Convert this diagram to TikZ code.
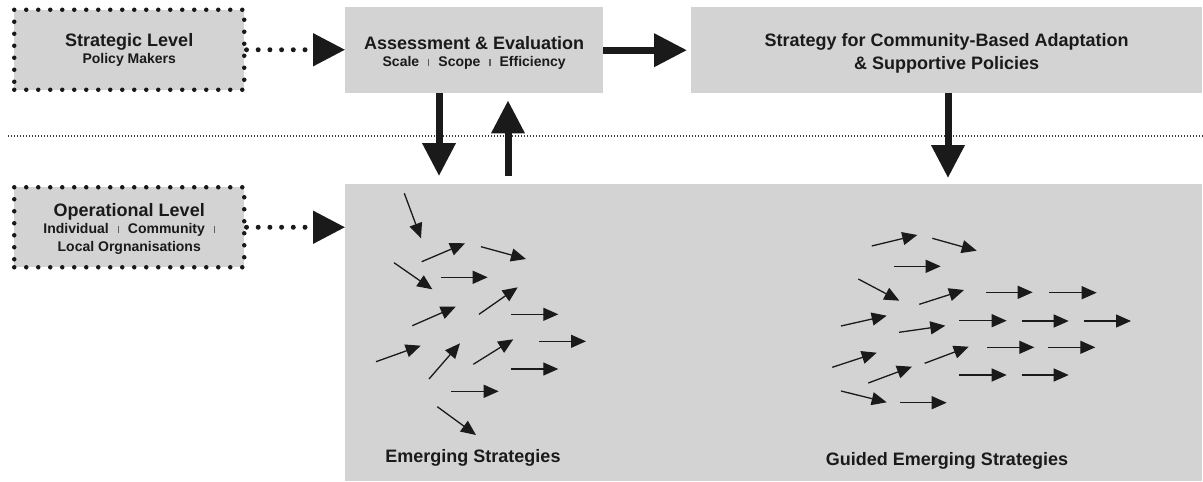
\documentclass[tikz,border=0pt]{standalone}
\usepackage{fontspec}
\setmainfont{Liberation Sans}
\usetikzlibrary{arrows.meta,calc}
\definecolor{boxgray}{HTML}{D3D3D3}
\definecolor{ink}{HTML}{1A1A1A}
\newcommand{\mysep}{\hspace{9pt}\textcolor{ink!70}{\rule[0.5pt]{1.2pt}{7pt}}\hspace{9pt}}
\newcommand{\bigtxt}{\fontsize{18}{21}\selectfont}
\newcommand{\smalltxt}{\fontsize{14}{17.5}\selectfont}
\begin{document}
\begin{tikzpicture}[x=1pt,y=-1pt,
  box/.style={fill=boxgray, draw=none, anchor=north west, inner sep=0pt, align=center, text=ink},
  dotbox/.style={box, draw=ink, line width=4.5pt, dash pattern=on 0pt off 12pt, line cap=round},
  smallfont/.style={font=\bfseries\smalltxt},
  largefont/.style={font=\bfseries\fontsize{18}{23}\selectfont},
  bigarrow/.style={draw=ink, line width=7pt, -{Triangle[length=33pt,width=32pt]}},
  dotarrow/.style={draw=ink, line width=5pt, dash pattern=on 0pt off 11.7pt, line cap=round, -{Triangle[length=32pt,width=32pt]}},
  smallarrow/.style={draw=ink, line width=1.3pt, -{Triangle[length=15pt,width=13pt]}},
  divider/.style={draw=ink!85, line width=1.2pt, dash pattern=on 1.2pt off 1.8pt},
  caption/.style={text=ink, font=\bfseries\fontsize{18}{21}\selectfont, inner sep=0pt}
]
\useasboundingbox (0,0) rectangle (1203,482);

% divider
\coordinate (divL) at (8,136);
\coordinate (divR) at (1203,136);
\draw[divider] (divL) -- (divR);

% boxes
\node[dotbox, smallfont, minimum width=230pt, minimum height=80pt] (stratlvl) at (12,7.5)
  {{\bigtxt Strategic Level}\\{\smalltxt Policy Makers}};
\node[dotbox, smallfont, minimum width=230pt, minimum height=80pt] (oplvl) at (12,185)
  {{\bigtxt\rule{0pt}{16pt}Operational Level}\\{\smalltxt Individual\mysep Community\mysep}\\{\smalltxt Local Orgnanisations}};
\node[box, smallfont, minimum width=258pt, minimum height=86pt] (assess) at (345,7)
  {{\bigtxt\rule{0pt}{19pt}Assessment \& Evaluation}\\{\smalltxt Scale\mysep Scope\mysep Efficiency}};
\node[box, largefont, minimum width=511pt, minimum height=86pt] (strat) at (691,7)
  {\rule{0pt}{19pt}Strategy for Community-Based Adaptation\\\& Supportive Policies};
\node[box, minimum width=857pt, minimum height=297pt] (field) at (345,184) {};

\node[caption] (emerg) at (473,458) {Emerging Strategies};
\node[caption] (guided) at (947,461) {Guided Emerging Strategies};

% connectors
\draw[dotarrow] (stratlvl.east) -- (stratlvl.east -| assess.west);
\draw[dotarrow] (oplvl.east) -- (oplvl.east -| field.west);
\draw[bigarrow, shorten >=4pt] (assess.east) -- (assess.east -| strat.west);

\coordinate (xA) at (439,0);
\coordinate (xB) at (508,0);
\coordinate (xC) at (948,0);
\draw[bigarrow] (xA |- assess.south) -- ($(xA |- field.north)+(0,-8)$);
\draw[bigarrow] ($(xB |- field.north)+(0,-8)$) -- ($(xB |- assess.south)+(0,7)$);
\draw[bigarrow] (xC |- strat.south) -- ($(xC |- field.north)+(0,-6)$);

% emerging strategies (left group)
\foreach \ax/\ay/\bx/\by in {
404.3/193.3/421/238.3,
421.7/261.7/465/243.3,
481/246.7/526/259,
394/262.7/432.3/289.3,
441/277.3/487.7/277.3,
479/314.3/517.7/287.3,
412.3/325.7/455.7/306.7,
511/314.3/558.3/314.3,
376/361.7/420.7/345.7,
429/379/460/343.3,
473.3/364.3/513.3/339.3,
539/341.3/586/341.3,
511/369/558.3/369,
451/391.3/498.7/391.3,
437.3/406.7/476/435}
  \draw[smallarrow] (\ax,\ay) -- (\bx,\by);

% guided emerging strategies (right group)
\foreach \ax/\ay/\bx/\by in {
871.7/246/917.3/235,
932.3/238.3/976.7/250.7,
894/266.3/940.7/266.3,
858.3/279/899.3/300.7,
919.3/304.3/964/290,
986/292.3/1032.7/292.3,
1049.3/292.7/1096.7/292.7,
841/326/886.7/315.7,
899/332.3/945.3/325.7,
959.3/320.7/1006.7/320.7,
1021.7/321/1068.7/321,
1084/321/1131/321,
832.3/367.3/876.7/352.7,
924.7/363.3/968.7/346.7,
987.3/347.3/1034.3/347.3,
1048/347.3/1095.3/347.3,
868.3/383/912/366.7,
959.3/375/1006.7/375,
1021.7/375/1068.7/375,
841/391/886.7/402.3,
900/402.7/946.7/402.7}
  \draw[smallarrow] (\ax,\ay) -- (\bx,\by);
\end{tikzpicture}
\end{document}
